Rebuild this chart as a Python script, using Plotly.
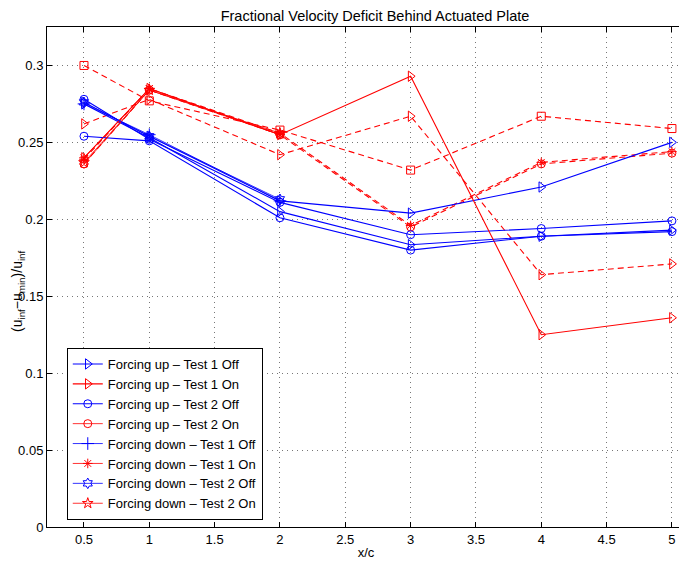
import plotly.graph_objects as go

x = [0.5, 1, 2, 3, 4, 5]
x3 = [0.5, 1, 2]

# Legend series (solid)
up_t1_off = [0.276, 0.254, 0.212, 0.204, 0.221, 0.250]
up_t1_on = [0.240, 0.285, 0.255, 0.293, 0.125, 0.136]
up_t2_off = [0.254, 0.251, 0.201, 0.180, 0.189, 0.192]
up_t2_on = [0.236, 0.284, 0.255]
down_t1_off = [0.275, 0.255, 0.212]
down_t1_on = [0.240, 0.285, 0.255]
down_t2_off = [0.276, 0.254, 0.213]
down_t2_on = [0.237, 0.284, 0.256]

# Additional plotted series (not in legend)
blue_circ_b = [0.278, 0.252, 0.211, 0.190, 0.194, 0.199]
blue_tri_b = [0.275, 0.253, 0.205, 0.1835, 0.189, 0.193]
red_dash_circ = [0.236, 0.284, 0.255, 0.195, 0.236, 0.243]
red_dash_ast = [0.239, 0.285, 0.256, 0.196, 0.237, 0.244]
red_dash_sq = [0.300, 0.277, 0.258, 0.232, 0.267, 0.259]
red_dash_tri = [0.262, 0.278, 0.242, 0.267, 0.164, 0.171]

legend_names = [
    "Forcing up \u2013 Test 1 Off",
    "Forcing up \u2013 Test 1 On",
    "Forcing up \u2013 Test 2 Off",
    "Forcing up \u2013 Test 2 On",
    "Forcing down \u2013 Test 1 Off",
    "Forcing down \u2013 Test 1 On",
    "Forcing down \u2013 Test 2 Off",
    "Forcing down \u2013 Test 2 On",
]

BLUE = "#0000ff"
RED = "#ff0000"

fig = go.Figure()

def add(xs, ys, color, symbol, name=None, dash="solid", show=True, size=8, width=1.1):
    fig.add_trace(go.Scatter(
        x=xs, y=ys, mode="lines+markers", name=name, showlegend=show,
        line=dict(color=color, width=width, dash=dash),
        marker=dict(symbol=symbol, size=size, color=color,
                    line=dict(color=color, width=1)),
    ))

# non-legend traces first (drawn under)
add(x, red_dash_sq, RED, "square-open", dash="6px,4px", show=False)
add(x, red_dash_tri, RED, "triangle-right-open", dash="6px,4px", show=False, size=9)
add(x, red_dash_circ, RED, "circle-open", dash="6px,4px", show=False)
add(x, red_dash_ast, RED, "asterisk-open", dash="6px,4px", show=False)
add(x, blue_circ_b, BLUE, "circle-open", show=False)
add(x, blue_tri_b, BLUE, "triangle-right-open", show=False, size=9)

# legend traces
add(x, up_t1_off, BLUE, "triangle-right-open", legend_names[0], size=9)
add(x, up_t1_on, RED, "triangle-right-open", legend_names[1], size=9)
add(x, up_t2_off, BLUE, "circle-open", legend_names[2])
add(x3, up_t2_on, RED, "circle-open", legend_names[3], width=0.8)
add(x3, down_t1_off, BLUE, "cross-thin-open", legend_names[4], size=9, width=0.8)
add(x3, down_t1_on, RED, "asterisk-open", legend_names[5], width=0.8)
add(x3, down_t2_off, BLUE, "hexagram-open", legend_names[6], width=0.8)
add(x3, down_t2_on, RED, "star-open", legend_names[7], width=0.8)

x_ticks = [0.5, 1, 1.5, 2, 2.5, 3, 3.5, 4, 4.5, 5]
x_tick_text = ["0.5", "1", "1.5", "2", "2.5", "3", "3.5", "4", "4.5", "5"]
y_ticks = [0, 0.05, 0.1, 0.15, 0.2, 0.25, 0.3]
y_tick_text = ["0", "0.05", "0.1", "0.15", "0.2", "0.25", "0.3"]

axis_common = dict(
    showline=True, linecolor="black", linewidth=1, mirror="ticks",
    ticks="inside", ticklen=5, tickcolor="black", tickwidth=1,
    showgrid=True, gridcolor="#777777", griddash="1px,4px", gridwidth=1,
    zeroline=False, tickfont=dict(size=13, color="black"), automargin=False,
)

# page body has an 8px margin, so the figure is sized to fit the window
W, H = 679, 559
fig.update_layout(
    width=W, height=H,
    margin=dict(l=39, r=2, t=19, b=40),
    paper_bgcolor="white", plot_bgcolor="white",
    font=dict(family="Liberation Sans, Arial, sans-serif", color="black", size=13),
    title=dict(text="Fractional Velocity Deficit Behind Actuated Plate",
               x=(375 - 8) / W, xanchor="center", yref="container", y=0.995, yanchor="top",
               pad=dict(t=0, b=0), font=dict(size=14.5)),
    xaxis=dict(range=[0.217, 5.1], tickvals=x_ticks, ticktext=x_tick_text,
               title=dict(text="x/c", standoff=2, font=dict(size=13)), **axis_common),
    yaxis=dict(range=[0, 0.325], tickvals=y_ticks, ticktext=y_tick_text, **axis_common),
    legend=dict(x=0.031, y=0.014, xanchor="left", yanchor="bottom",
                bgcolor="white", bordercolor="black", borderwidth=1,
                font=dict(size=13), tracegroupgap=0, itemwidth=30),
    annotations=[dict(
        text="(u<sub>inf</sub>\u2212u<sub>min</sub>)/u<sub>inf</sub>",
        xref="paper", yref="paper", x=-29 / 638, y=0.472,
        xanchor="center", yanchor="middle", textangle=-90, showarrow=False,
        font=dict(size=14, color="black"),
    )],
)

fig.write_html("out.html")
